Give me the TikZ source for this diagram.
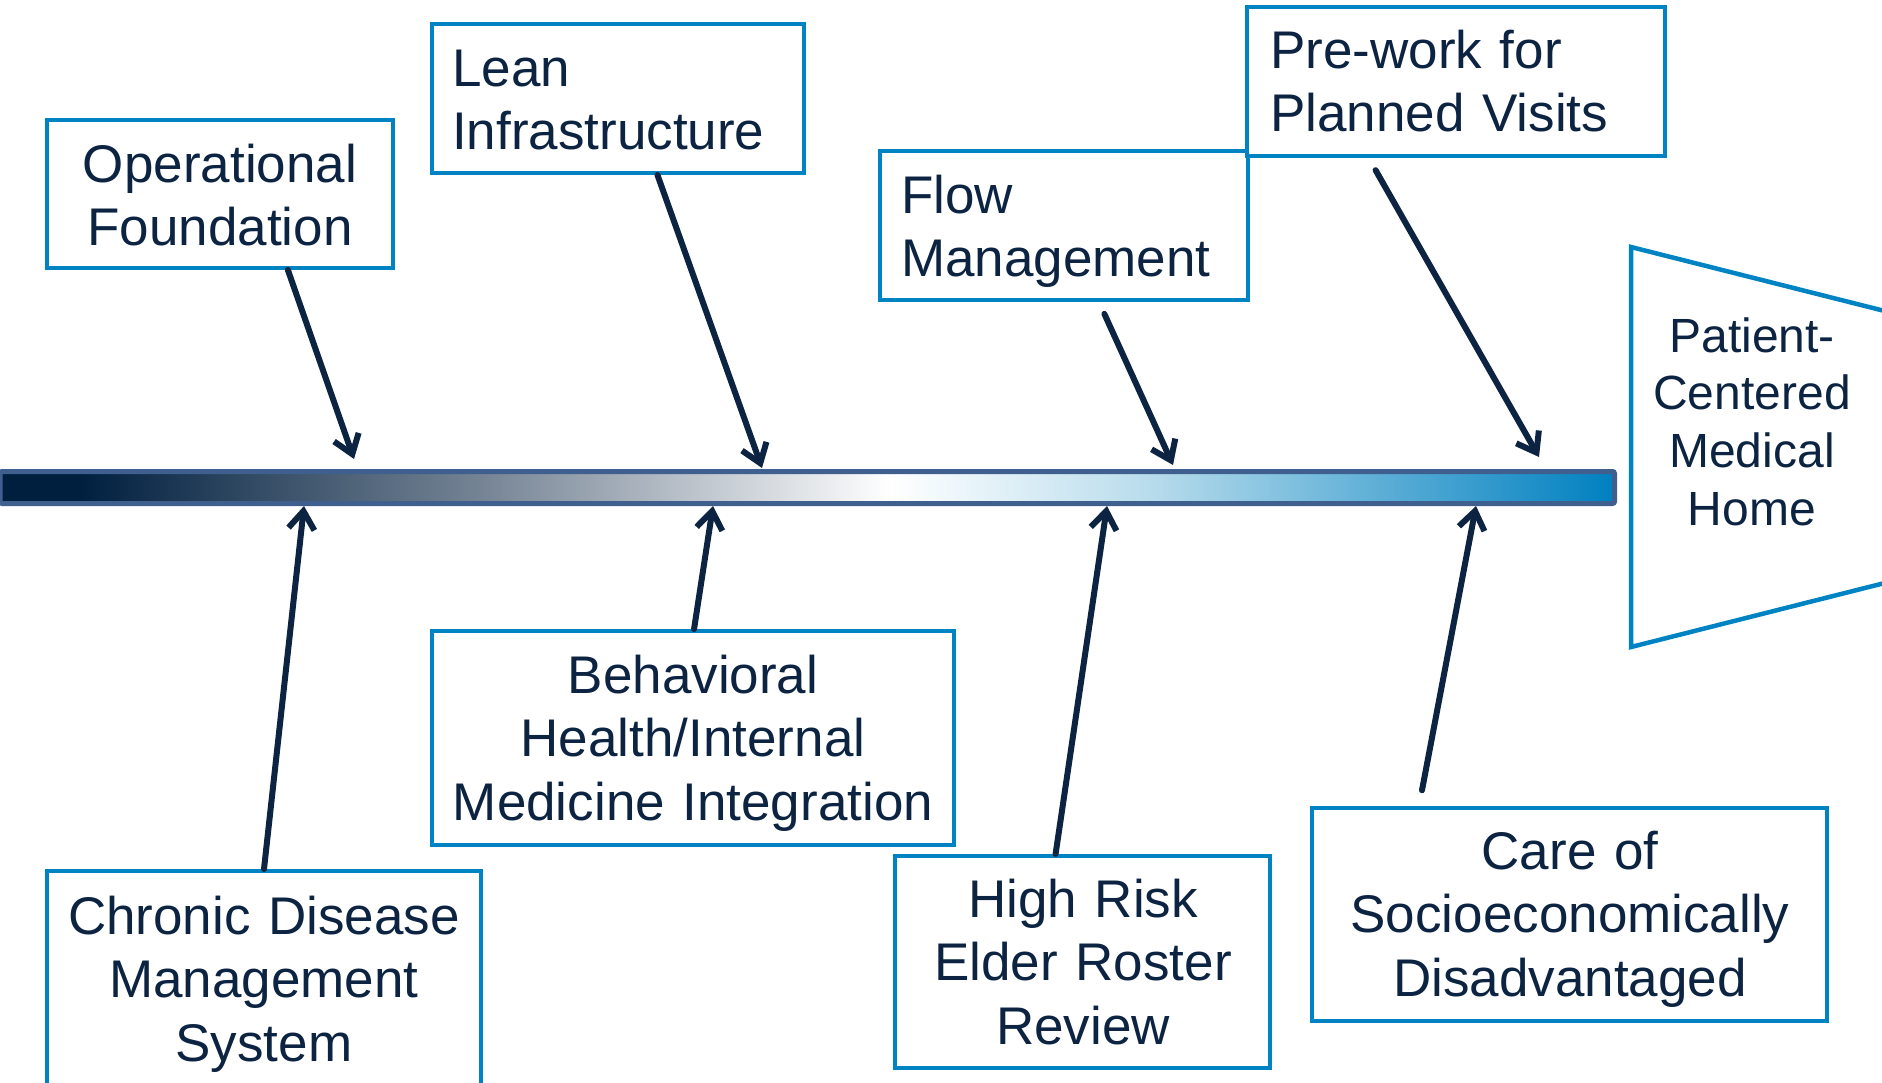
\documentclass[tikz,border=0pt]{standalone}
\usepackage{fontspec}
\setmainfont{Liberation Sans}
\usetikzlibrary{arrows.meta,calc}
\definecolor{navy}{HTML}{0C2442}
\definecolor{boxblue}{HTML}{0083C3}
\definecolor{spineedge}{HTML}{3F5F8F}
\definecolor{sp0}{HTML}{001F3F}
\definecolor{sp1}{HTML}{7B8999}
\definecolor{sp2}{HTML}{FFFFFF}
\definecolor{sp3}{HTML}{B8DCEC}
\definecolor{sp4}{HTML}{0080C0}
\tikzset{
  causebox/.style={draw=boxblue, line width=4pt, rectangle, inner sep=0pt, fill=white},
  txt/.style={text=navy, inner sep=0pt, font=\fontsize{53}{63.5}\selectfont, text width=620pt},
  ctxt/.style={txt, align=center, anchor=base},
  ltxt/.style={txt, align=left, anchor=base west},
  conn/.style={draw=navy, line width=6pt, line cap=round, -{Straight Barb[length=18pt,width=26pt]}},
}
\begin{document}
\begin{tikzpicture}[x=1pt,y=-1pt]
\useasboundingbox (0,0) rectangle (1882,1082);
\clip (0,0) rectangle (1882,1082);
% spine
\fill[sp0] (0,472) rectangle (81,503);
\shade[left color=sp0, right color=sp1] (80,472) rectangle (501,503);
\shade[left color=sp1, right color=sp2] (500,472) rectangle (891,503);
\shade[left color=sp2, right color=sp3] (890,472) rectangle (1151,503);
\shade[left color=sp3, right color=sp4] (1150,472) rectangle (1614,503);
\draw[spineedge, line width=5pt, rounded corners=2pt] (0,471.5) rectangle (1614.5,503.5);
% effect
\draw[boxblue, line width=4.5pt, line join=miter] (1960,330) -- (1631,247) -- (1631,647) -- (1960,564);
\node[txt, font=\fontsize{48}{57.7}\selectfont, align=center, anchor=base] (pcmh) at (1752,352) {Patient-\\Centered\\Medical\\Home};
% boxes
\node[causebox, minimum width=346pt, minimum height=148pt] (op) at (220,194) {};
\node[causebox, minimum width=372pt, minimum height=149pt] (lean) at (618,98.5) {};
\node[causebox, minimum width=368pt, minimum height=149pt] (flow) at (1064,225.5) {};
\node[causebox, minimum width=418pt, minimum height=149pt] (pre) at (1456,81.5) {};
\node[causebox, minimum width=522pt, minimum height=214pt] (beh) at (693,738) {};
\node[causebox, minimum width=434pt, minimum height=215pt] (chr) at (264,978.5) {};
\node[causebox, minimum width=375pt, minimum height=212pt] (high) at (1082.5,962) {};
\node[causebox, minimum width=515pt, minimum height=213pt] (care) at (1569.5,914.5) {};
% texts
\node[ctxt] (opt) at (220,182) {Operational\\Foundation};
\node[ltxt] (leant) at (452,86) {Lean\\Infrastructure};
\node[ltxt] (flowt) at (901,213) {Flow\\Management};
\node[ltxt] (pret) at (1270,68) {Pre-work for\\Planned Visits};
\node[ctxt] (beht) at (693,693) {Behavioral\\Health/Internal\\Medicine Integration};
\node[ctxt] (chrt) at (264,934) {Chronic Disease\\Management\\System};
\node[ctxt] (hight) at (1083,917) {High Risk\\Elder Roster\\Review};
\node[ctxt] (caret) at (1570,869) {Care of\\Socioeconomically\\Disadvantaged};
% arrow targets on the spine
\coordinate (t1) at (354,459);
\coordinate (t2) at (762,468);
\coordinate (t3) at (1173,465);
\coordinate (t4) at (1539,457);
\coordinate (t5) at (304,506);
\coordinate (t6) at (713,506);
\coordinate (t7) at (1107,506);
\coordinate (t8) at (1476,506);
% connectors
\draw[conn] ($(op.south west)!0.694!(op.south east)$) -- (t1);
\draw[conn] ($(lean.south west)!0.605!(lean.south east)$) -- (t2);
\draw[conn, shorten <=13pt] ($(flow.south west)!0.594!(flow.south east)$) -- (t3);
\draw[conn, shorten <=14pt] ($(pre.south west)!0.293!(pre.south east)$) -- (t4);
\draw[conn] ($(chr.north west)!0.5!(chr.north east)$) -- (t5);
\draw[conn] ($(beh.north west)!0.502!(beh.north east)$) -- (t6);
\draw[conn] ($(high.north west)!0.429!(high.north east)$) -- (t7);
\draw[conn, shorten <=16pt] ($(care.north west)!0.21!(care.north east)$) -- (t8);
\end{tikzpicture}
\end{document}
